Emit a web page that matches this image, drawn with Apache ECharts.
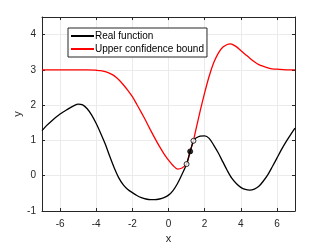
<!DOCTYPE html>
<html><head><meta charset="utf-8">
<script src="https://cdn.jsdelivr.net/npm/echarts@6/dist/echarts.min.js"></script>
<style>html,body{margin:0;padding:0;background:#fff}#c{width:327px;height:245px}</style>
</head><body><div id="c"></div>
<script>
const realX = [-7,-6.75,-6.5,-6.25,-6,-5.75,-5.5,-5.25,-5,-4.75,-4.5,-4.25,-4,-3.75,-3.5,-3.25,-3,-2.75,-2.5,-2.25,-2,-1.75,-1.5,-1.25,-1,-0.75,-0.5,-0.25,0,0.25,0.5,0.75,1,1.2,1.38,1.5,1.75,2,2.25,2.5,2.75,3,3.25,3.5,3.75,4,4.25,4.5,4.75,5,5.25,5.5,5.75,6,6.25,6.5,6.75,7];
const realY = [1.28,1.42,1.54,1.65,1.75,1.83,1.91,1.98,2.03,2.01,1.9,1.72,1.48,1.2,0.9,0.55,0.22,-0.06,-0.26,-0.39,-0.48,-0.56,-0.62,-0.66,-0.68,-0.68,-0.66,-0.62,-0.55,-0.42,-0.22,0.04,0.33,0.69,0.99,1.06,1.12,1.13,1.06,0.87,0.65,0.4,0.15,-0.07,-0.22,-0.33,-0.39,-0.41,-0.38,-0.3,-0.15,0.03,0.26,0.5,0.74,0.96,1.16,1.35];
const ucbX = [-7,-6,-5,-4.5,-4,-3.75,-3.5,-3.25,-3,-2.75,-2.5,-2.25,-2,-1.75,-1.5,-1.25,-1,-0.75,-0.5,-0.25,0,0.25,0.5,0.75,1,1.2,1.38,1.5,1.75,2,2.25,2.5,2.75,3,3.25,3.4,3.5,3.75,4,4.25,4.5,4.75,5,5.25,5.5,5.75,6,6.5,7];
const ucbY = [3,3,3,3,2.99,2.98,2.95,2.9,2.83,2.72,2.58,2.42,2.24,2.02,1.79,1.55,1.3,1.06,0.83,0.62,0.44,0.29,0.19,0.22,0.33,0.69,0.99,1.27,1.83,2.35,2.82,3.2,3.47,3.64,3.72,3.74,3.73,3.66,3.55,3.44,3.33,3.23,3.15,3.1,3.06,3.03,3.02,3.0,3.0];
const openPtsX = [1.0,1.38];
const openPtsY = [0.33,0.99];
const filledPtsX = [1.2];
const filledPtsY = [0.69];
const seriesNames = ['Real function','Upper confidence bound'];
const xTickValues = [-6,-4,-2,0,2,4,6];
const yTickValues = [-1,0,1,2,3,4];
const xRange = [-7,7];
const yRange = [-1,4.5];

const zip = (a,b)=>a.map((v,i)=>[v,b[i]]);
const chart = echarts.init(document.getElementById('c'));
const txt = '#262626';
const font = 'Liberation Sans, Arial, sans-serif';
function axis(extra, range, ticks, showLabel, margin){
  return Object.assign({
    type:'value', min:range[0], max:range[1],
    axisLine:{show:true,onZero:false,lineStyle:{color:txt,width:1}},
    axisTick:{show:true,inside:true,length:3,customValues:ticks,lineStyle:{color:txt}},
    axisLabel:{show:showLabel,customValues:ticks,color:txt,fontSize:10,fontFamily:font,margin:margin||8},
    splitLine:{show:false}
  }, extra);
}
chart.setOption({
  animation:false,
  backgroundColor:'#fff',
  grid:{left:42,right:32,top:17,bottom:34,show:false,containLabel:false,outerBoundsMode:'none'},
  legend:{
    data:seriesNames, orient:'vertical', left:68, top:28,
    itemWidth:23, itemHeight:2, itemGap:3, icon:'rect',
    padding:[3,3,3,3], borderColor:txt, borderWidth:1, backgroundColor:'#fff',
    textStyle:{color:'#000',fontSize:10,fontFamily:font,padding:[0,0,0,-4]}
  },
  xAxis:[
    axis({name:'x',nameLocation:'middle',nameGap:22,nameTextStyle:{color:txt,fontSize:11,fontFamily:font},
      splitLine:{show:true,lineStyle:{color:'#ebebeb',width:1}}}, xRange, xTickValues, true, 8),
    axis({position:'top'}, xRange, xTickValues, false)
  ],
  yAxis:[
    axis({name:'y',nameLocation:'middle',nameGap:19,nameMoveOverlap:false,nameTextStyle:{color:txt,fontSize:11,fontFamily:font},
      splitLine:{show:true,lineStyle:{color:'#ebebeb',width:1}}}, yRange, yTickValues, true, 6),
    axis({position:'right'}, yRange, yTickValues, false)
  ],
  series:[
    {name:seriesNames[0],type:'line',data:zip(realX,realY),smooth:0.3,showSymbol:false,
     lineStyle:{color:'#000',width:1.3},itemStyle:{color:'#000'},z:3},
    {name:seriesNames[1],type:'line',data:zip(ucbX,ucbY),smooth:0.3,showSymbol:false,
     lineStyle:{color:'#ff0000',width:1.3},itemStyle:{color:'#ff0000'},z:2},
    {type:'scatter',data:zip(openPtsX,openPtsY),symbol:'circle',symbolSize:5,
     itemStyle:{color:'#fff',borderColor:'#000',borderWidth:1},z:5},
    {type:'scatter',data:zip(filledPtsX,filledPtsY),symbol:'circle',symbolSize:5,
     itemStyle:{color:'#000',borderColor:'#000',borderWidth:1},z:5}
  ]
});
</script></body></html>
